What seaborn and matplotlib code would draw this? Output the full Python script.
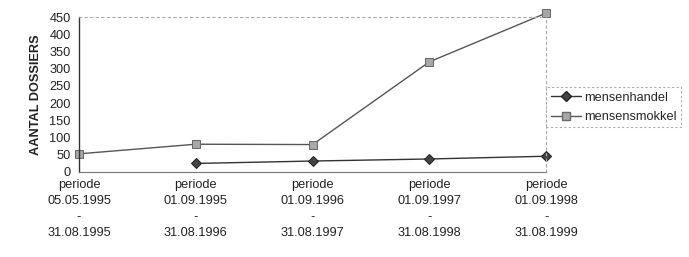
import numpy as np
import pandas as pd
import matplotlib
matplotlib.use("Agg")
import matplotlib.pyplot as plt
import seaborn as sns
from matplotlib.lines import Line2D

periods = ["periode\n05.05.1995\n-\n31.08.1995",
           "periode\n01.09.1995\n-\n31.08.1996",
           "periode\n01.09.1996\n-\n31.08.1997",
           "periode\n01.09.1997\n-\n31.08.1998",
           "periode\n01.09.1998\n-\n31.08.1999"]
mensenhandel = [np.nan, 24, 31, 37, 45]
mensensmokkel = [52, 80, 79, 320, 462]
yticks = [0, 50, 100, 150, 200, 250, 300, 350, 400, 450]

sns.set_theme(style="white")
plt.rcParams['font.family'] = ['Liberation Sans', 'DejaVu Sans']

df = pd.DataFrame({
    "pos": list(range(len(periods))) * 2,
    "value": mensenhandel + mensensmokkel,
    "serie": ["mensenhandel"] * len(periods) + ["mensensmokkel"] * len(periods),
})

FS = 9.2
fig = plt.figure(figsize=(6.89, 2.57), dpi=100)
ax = fig.add_axes([0.1147, 0.332, 0.678, 0.601])

sns.lineplot(data=df, x="pos", y="value", hue="serie", style="serie",
             palette={"mensenhandel": "#333333", "mensensmokkel": "#555555"},
             markers={"mensenhandel": "D", "mensensmokkel": "s"},
             dashes=False, linewidth=1.0, markersize=5.5, ax=ax,
             clip_on=False, legend=False)
lines = ax.get_lines()
lines[0].set_markerfacecolor("#444444"); lines[0].set_markeredgecolor("#222222")
lines[1].set_markerfacecolor("#a8a8a8"); lines[1].set_markeredgecolor("#6a6a6a")

ax.set_xlim(0, len(periods) - 1)
ax.set_ylim(0, 450)
ax.set_yticks(yticks)
ax.set_yticklabels([str(v) for v in yticks], fontsize=FS, color="#222222")
ax.set_xticks(range(len(periods)))
ax.set_xticklabels(periods, fontsize=FS, color="#222222", linespacing=1.47)
ax.tick_params(axis="y", direction="out", length=3, width=0.8, color="#555555", pad=3)
ax.tick_params(axis="x", direction="out", length=3, width=0.8, color="#555555", pad=2)
ax.set_xlabel("")
ax.set_ylabel("AANTAL DOSSIERS", fontsize=FS, fontweight="bold", color="#222222", labelpad=5)

for s in ["top", "right"]:
    ax.spines[s].set_linestyle((0, (2, 3)))
    ax.spines[s].set_color("#aaaaaa")
    ax.spines[s].set_linewidth(0.8)
ax.spines["left"].set_color("#333333")
ax.spines["left"].set_linewidth(1.0)
ax.spines["bottom"].set_color("#777777")
ax.spines["bottom"].set_linewidth(0.8)

handles = [Line2D([], [], color="#333333", marker="D", markerfacecolor="#444444",
                  markeredgecolor="#222222", markersize=5.5, linewidth=1.0),
           Line2D([], [], color="#555555", marker="s", markerfacecolor="#a8a8a8",
                  markeredgecolor="#6a6a6a", markersize=5.5, linewidth=1.0)]
leg = ax.legend(handles, ["mensenhandel", "mensensmokkel"], loc="upper left",
                bbox_to_anchor=(1.0, 0.545), fontsize=FS, frameon=True,
                fancybox=False, handlelength=2.4, handletextpad=0.2,
                borderpad=0.35, labelspacing=0.55, borderaxespad=0.0)
leg.get_frame().set_edgecolor("#999999")
leg.get_frame().set_linestyle((0, (2, 2)))
leg.get_frame().set_linewidth(0.8)

fig.savefig("out.png", dpi=100)
